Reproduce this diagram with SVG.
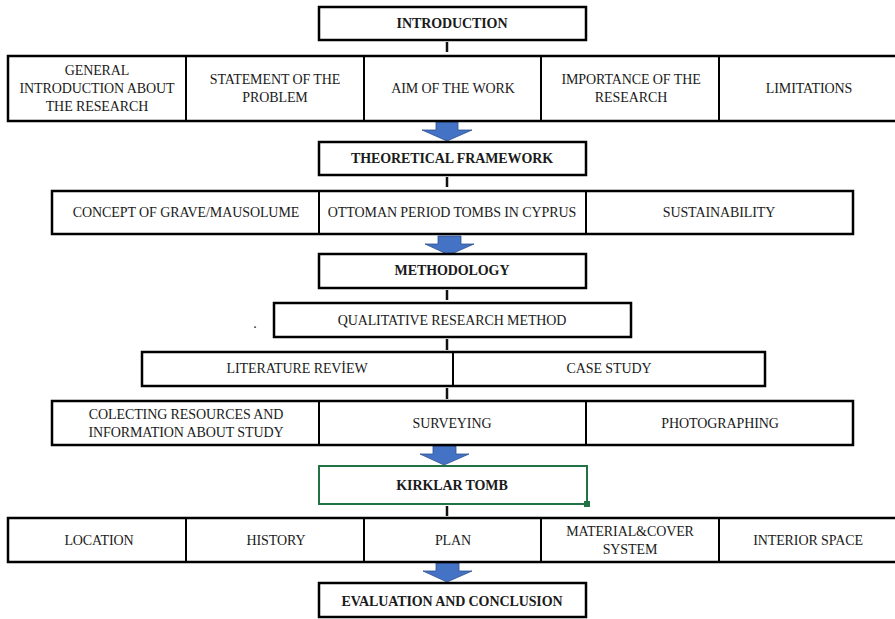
<svg xmlns="http://www.w3.org/2000/svg" width="895" height="619" viewBox="0 0 895 619">
<style>
  .box{fill:#fff;stroke:#000;stroke-width:2.5}
  .div{stroke:#000;stroke-width:2}
  .t{font-family:'Liberation Serif','DejaVu Serif',serif;font-size:14px;fill:#1a1a1a;text-anchor:middle;letter-spacing:-0.1px}
  .b{font-weight:bold}
  .arr{fill:#4472C4;stroke:#2f528f;stroke-width:0.8}
  .tick{stroke:#111;stroke-width:2.5}
</style>
<rect width="895" height="619" fill="#fff"/>
<g id="connectors">
  <line class="tick" x1="447" y1="42" x2="447" y2="52"/>
  <path class="arr" d="M436,122 L458,122 L458,130 L472,130 L447,141 L422,130 L436,130 Z"/>
  <line class="tick" x1="447" y1="177" x2="447" y2="187"/>
  <path class="arr" d="M438,236 L461,236 L461,244 L474,244 L449,255 L425,244 L438,244 Z"/>
  <line class="tick" x1="447" y1="290" x2="447" y2="300"/>
  <line class="tick" x1="447" y1="339" x2="447" y2="350"/>
  <line class="tick" x1="447" y1="388" x2="447" y2="399"/>
  <path class="arr" d="M433,446 L456,446 L456,454 L469,454 L444,465 L420,454 L433,454 Z"/>
  <line class="tick" x1="447" y1="506" x2="447" y2="516"/>
  <path class="arr" d="M436,563 L459,563 L459,571 L472,571 L447,582 L423,571 L436,571 Z"/>
</g>
<g id="introduction">
  <rect class="box" x="319" y="7" width="267" height="33"/>
  <text class="t b" x="452" y="28">INTRODUCTION</text>
</g>
<g id="row1">
  <rect class="box" x="8" y="56" width="892" height="65"/>
  <line class="div" x1="186" y1="56" x2="186" y2="121"/>
  <line class="div" x1="364" y1="56" x2="364" y2="121"/>
  <line class="div" x1="541" y1="56" x2="541" y2="121"/>
  <line class="div" x1="719" y1="56" x2="719" y2="121"/>
  <text class="t" x="97" y="75">GENERAL</text>
  <text class="t" x="97" y="93">INTRODUCTION ABOUT</text>
  <text class="t" x="97" y="111">THE RESEARCH</text>
  <text class="t" x="275" y="84">STATEMENT OF THE</text>
  <text class="t" x="275" y="102">PROBLEM</text>
  <text class="t" x="453" y="93">AIM OF THE WORK</text>
  <text class="t" x="631" y="84">IMPORTANCE OF THE</text>
  <text class="t" x="631" y="102">RESEARCH</text>
  <text class="t" x="809" y="93">LIMITATIONS</text>
</g>
<g id="theoretical">
  <rect class="box" x="319" y="142" width="267" height="33"/>
  <text class="t b" x="452" y="163">THEORETICAL FRAMEWORK</text>
</g>
<g id="row2">
  <rect class="box" x="52" y="191" width="801" height="43"/>
  <line class="div" x1="319" y1="191" x2="319" y2="234"/>
  <line class="div" x1="586" y1="191" x2="586" y2="234"/>
  <text class="t" x="186" y="217">CONCEPT OF GRAVE/MAUSOLUME</text>
  <text class="t" x="452" y="217">OTTOMAN PERIOD TOMBS IN CYPRUS</text>
  <text class="t" x="719" y="217">SUSTAINABILITY</text>
</g>
<g id="methodology">
  <rect class="box" x="319" y="254" width="267" height="34"/>
  <text class="t b" x="452" y="275">METHODOLOGY</text>
</g>
<g id="qualitative">
  <rect class="box" x="274" y="303" width="357" height="34"/>
  <text class="t" x="452" y="325">QUALITATIVE RESEARCH METHOD</text>
  <text class="t" x="255" y="328">.</text>
</g>
<g id="row3">
  <rect class="box" x="142" y="352" width="623" height="34"/>
  <line class="div" x1="453" y1="352" x2="453" y2="386"/>
  <text class="t" x="297" y="373">LITERATURE REVİEW</text>
  <text class="t" x="609" y="373">CASE STUDY</text>
</g>
<g id="row4">
  <rect class="box" x="52" y="401" width="801" height="44"/>
  <line class="div" x1="319" y1="401" x2="319" y2="445"/>
  <line class="div" x1="586" y1="401" x2="586" y2="445"/>
  <text class="t" x="186" y="419">COLECTING RESOURCES AND</text>
  <text class="t" x="186" y="437">INFORMATION ABOUT STUDY</text>
  <text class="t" x="452" y="428">SURVEYING</text>
  <text class="t" x="720" y="428">PHOTOGRAPHING</text>
</g>
<g id="kirklar">
  <rect x="319" y="466" width="268" height="38" fill="#fff" stroke="#217346" stroke-width="2"/>
  <rect x="584" y="501" width="6" height="6" fill="#217346"/>
  <text class="t b" x="452" y="490">KIRKLAR TOMB</text>
</g>
<g id="row5">
  <rect class="box" x="8" y="518" width="892" height="44"/>
  <line class="div" x1="186" y1="518" x2="186" y2="562"/>
  <line class="div" x1="364" y1="518" x2="364" y2="562"/>
  <line class="div" x1="541" y1="518" x2="541" y2="562"/>
  <line class="div" x1="719" y1="518" x2="719" y2="562"/>
  <text class="t" x="99" y="545">LOCATION</text>
  <text class="t" x="276" y="545">HISTORY</text>
  <text class="t" x="453" y="545">PLAN</text>
  <text class="t" x="630" y="536">MATERIAL&amp;COVER</text>
  <text class="t" x="630" y="554">SYSTEM</text>
  <text class="t" x="808" y="545">INTERIOR SPACE</text>
</g>
<g id="evaluation">
  <rect class="box" x="319" y="583" width="267" height="34"/>
  <text class="t b" x="452" y="606">EVALUATION AND CONCLUSION</text>
</g>
</svg>
